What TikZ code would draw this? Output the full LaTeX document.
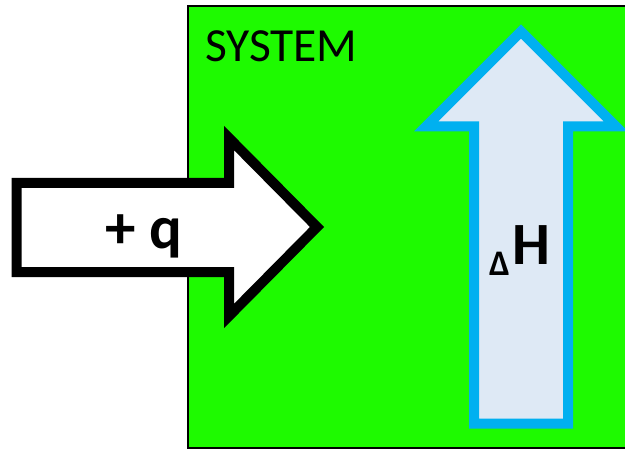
\documentclass[tikz,border=0pt]{standalone}
\usepackage{fontspec}
\setmainfont{Carlito}
\definecolor{sysgreen}{RGB}{30,250,0}
\definecolor{upblue}{RGB}{0,176,240}
\definecolor{upfill}{RGB}{222,233,245}
\begin{document}
\begin{tikzpicture}[x=1pt,y=-1pt,
  boxstyle/.style={fill=sysgreen,draw=black,line width=2pt},
  qarrow/.style={fill=white,draw=black,line width=10pt,miter limit=10,line join=miter},
  harrow/.style={fill=upfill,draw=upblue,line width=10pt,miter limit=10,line join=miter},
  lbl/.style={inner sep=0pt,outer sep=0pt,text=black}]
\useasboundingbox (0,0) rectangle (625,452);
\clip (0,0) rectangle (625,452);
% system box
\draw[boxstyle] (188,6) rectangle (640,448);
% heat arrow
\draw[qarrow] (16.5,183) -- (229,183) -- (229,138) -- (317,227) -- (229,316) -- (229,272) -- (16.5,272) -- cycle;
% enthalpy arrow
\draw[harrow] (474,423.5) -- (474,126.5) -- (426,126.5) -- (521,31.5) -- (616,126.5) -- (568,126.5) -- (568,423.5) -- cycle;
% labels
\node[lbl,anchor=base west,font=\fontsize{47.5}{47.5}\selectfont] (sys) at (205,62) {SYSTEM};
\node[lbl,anchor=base,font=\fontsize{61}{61}\bfseries] (q) at (144,248) {+ q};
\node[lbl,anchor=base west,font=\fontsize{36}{36}\bfseries] (delta) at (489,275) {Δ};
\node[lbl,anchor=base west,font=\fontsize{60}{60}\bfseries] (h) at (512,265) {H};
\end{tikzpicture}
\end{document}
